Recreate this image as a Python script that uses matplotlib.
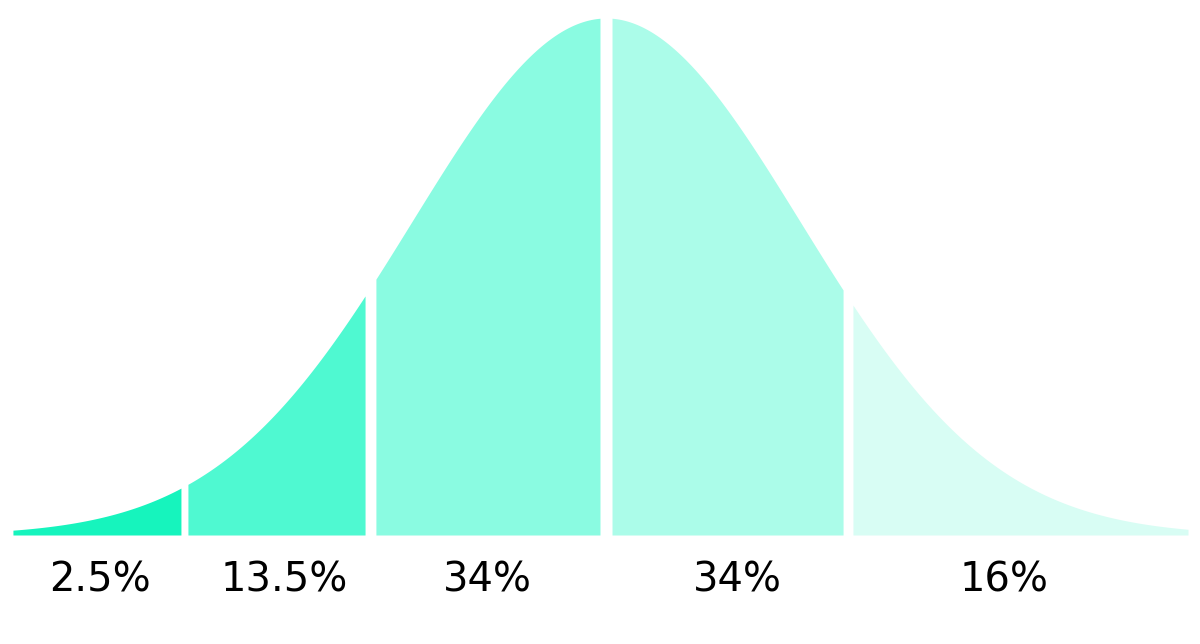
import numpy as np
import matplotlib
matplotlib.use("Agg")
import matplotlib.pyplot as plt

# Segment extents along the x axis (in standard deviations)
seg_start = [-3.057, -2.155, -1.186, 0.031, 1.273]
seg_end = [-2.191, -1.242, -0.031, 1.222, 3.000]
seg_labels = ["2.5%", "13.5%", "34%", "34%", "16%"]
label_x = [-2.608, -1.660, -0.613, 0.680, 2.052]
seg_colors = ["#16F4BD", "#4FF9D1", "#8AFBE1", "#ABFCE9", "#D8FDF4"]

fig = plt.figure(figsize=(12, 6.44), dpi=100)
ax = fig.add_axes([0, 0, 1, 1])
ax.set_xlim(-606 / 194, 594 / 194)
ax.set_ylim(-109 / 517, 1 + 18 / 517)
ax.axis("off")

for s, e, c in zip(seg_start, seg_end, seg_colors):
    x = np.linspace(s, e, 300)
    y = np.exp(-x ** 2 / 2)
    ax.fill_between(x, 0, y, color=c, linewidth=0)

for lx, lab in zip(label_x, seg_labels):
    ax.text(lx, -0.088, lab, ha="center", va="center", fontsize=28.8,
            family="DejaVu Sans", color="#000000")

fig.savefig("out.png", dpi=100)
